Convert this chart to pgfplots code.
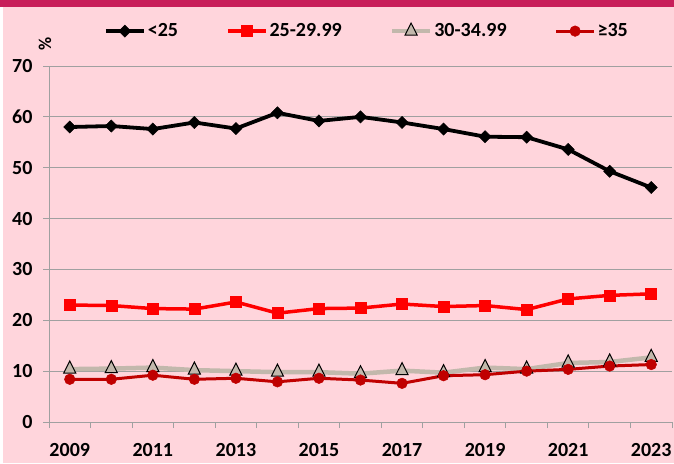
\documentclass[border=0pt]{standalone}
\usepackage{fontspec}
\setmainfont{Carlito}
\usepackage{pgfplots}
\pgfplotsset{compat=1.18}
\definecolor{bg}{HTML}{FFD5DC}
\definecolor{band}{HTML}{C81E5A}
\definecolor{grayline}{HTML}{C2B8AC}
\definecolor{darkred}{HTML}{C00000}
\definecolor{gridc}{HTML}{A0A0A0}
\begin{document}
\begin{tikzpicture}[x=1pt,y=1pt]
\fill[bg] (0,0) rectangle (674,463);
\fill[white] (0,0) rectangle (3,456);
\fill[band] (0,456) rectangle (674,463);
\begin{axis}[
  at={(49pt,41pt)}, anchor=south west,
  scale only axis, width=623pt, height=356pt,
  xmin=2008.5, xmax=2023.5, ymin=0, ymax=70,
  axis lines*=left,
  axis line style={gridc, line width=1pt, -},
  xtick={2008.5,2009.5,2010.5,2011.5,2012.5,2013.5,2014.5,2015.5,2016.5,2017.5,2018.5,2019.5,2020.5,2021.5,2022.5,2023.5},
  xticklabels={},
  extra x ticks={2009,2011,2013,2015,2017,2019,2021,2023},
  extra x tick labels={2009,2011,2013,2015,2017,2019,2021,2023},
  extra x tick style={major tick length=0pt, xticklabel style={yshift=-18pt}},
  ytick={0,10,...,70},
  ymajorgrids, grid style={gridc, line width=0.8pt},
  major tick length=6pt, tick align=outside,
  tick style={gridc, line width=1pt},
  tick label style={font=\fontsize{20}{24}\selectfont\bfseries},
  yticklabel style={xshift=-7pt},
  /pgf/number format/assume math mode=true,
  clip=false,
  legend columns=4,
  legend style={at={(axis description cs:0.088,1.098)}, anchor=west, draw=none, fill=none,
    inner xsep=0pt, font=\fontsize{20}{24}\selectfont\bfseries,
    /tikz/every even column/.append style={column sep=46pt}},
  legend image code/.code={\draw[mark repeat=2,mark phase=2] plot coordinates {(0pt,0pt) (19pt,0pt) (38pt,0pt)};},
]
\addplot[black, line width=3.8pt, mark=square*, mark size=4.3pt, mark options={rotate=45, solid, line width=0.5pt}] coordinates {
(2009,58.0) (2010,58.2) (2011,57.6) (2012,58.9) (2013,57.7) (2014,60.8) (2015,59.2) (2016,60.0)
(2017,58.9) (2018,57.6) (2019,56.1) (2020,56.0) (2021,53.6) (2022,49.3) (2023,46.1)};
\addlegendentry{<25}
\addplot[red, line width=3.5pt, mark=square*, mark size=5.5pt, mark options={solid, line width=0.5pt}] coordinates {
(2009,23.0) (2010,22.9) (2011,22.3) (2012,22.2) (2013,23.6) (2014,21.4) (2015,22.3) (2016,22.4)
(2017,23.2) (2018,22.7) (2019,22.9) (2020,22.1) (2021,24.2) (2022,24.9) (2023,25.2)};
\addlegendentry{25-29.99}
\addplot[grayline, line width=4.5pt, mark=triangle*, mark size=7pt, mark options={solid, yscale=1.15, fill=grayline, draw=black, line width=1pt}] coordinates {
(2009,10.4) (2010,10.5) (2011,10.7) (2012,10.2) (2013,10.0) (2014,9.8) (2015,9.8) (2016,9.5)
(2017,10.1) (2018,9.7) (2019,10.7) (2020,10.4) (2021,11.6) (2022,11.8) (2023,12.7)};
\addlegendentry{30-34.99}
\addplot[darkred, line width=3pt, mark=*, mark size=5.3pt, mark options={solid, fill=darkred, draw=darkred, line width=0.5pt}] coordinates {
(2009,8.4) (2010,8.4) (2011,9.2) (2012,8.4) (2013,8.6) (2014,7.9) (2015,8.6) (2016,8.25)
(2017,7.6) (2018,9.1) (2019,9.3) (2020,10.0) (2021,10.35) (2022,11.0) (2023,11.3)};
\addlegendentry{≥35}
\end{axis}
\node[rotate=90, font=\fontsize{18}{20}\selectfont\bfseries] at (45,419) {\%};
\pgfresetboundingbox
\useasboundingbox (0,0) rectangle (674,463);
\end{tikzpicture}
\end{document}
